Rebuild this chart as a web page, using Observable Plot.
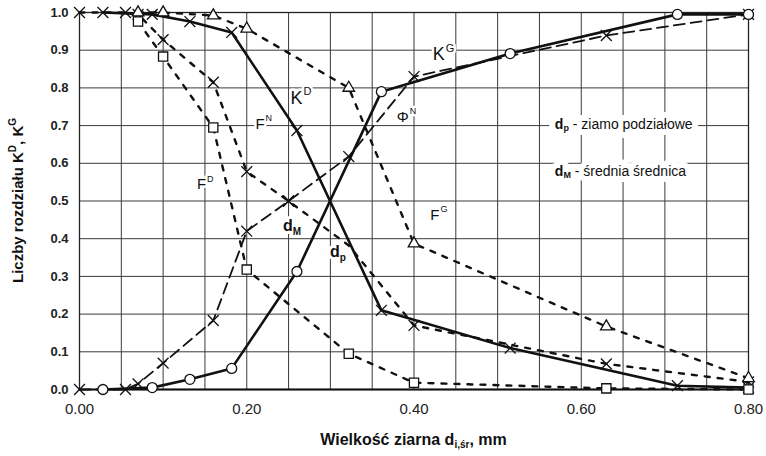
<!DOCTYPE html>
<html><head><meta charset="utf-8">
<script src="https://cdn.jsdelivr.net/npm/d3@7"></script>
<script src="https://cdn.jsdelivr.net/npm/@observablehq/plot@0.6"></script>
<style>body{margin:0;background:#fff;font-family:"Liberation Sans",Arial,sans-serif}</style>
</head><body><div id="chart"></div>
<script>
// partition numbers K^G (circles) and K^D (crosses)
const xK  = [0.028, 0.087, 0.132, 0.182, 0.26, 0.361, 0.515, 0.715, 0.80];
const kG  = [0.0, 0.005, 0.027, 0.056, 0.313, 0.79, 0.891, 0.995, 0.995];
const kD  = [1.0, 0.995, 0.976, 0.947, 0.687, 0.21, 0.11, 0.01, 0.005];
// feed distributions Phi^N and F^N (crosses)
const xN   = [0, 0.055, 0.07, 0.10, 0.16, 0.20, 0.25, 0.322, 0.40, 0.63, 0.80];
const phiN = [0, 0, 0.015, 0.07, 0.183, 0.42, 0.50, 0.618, 0.83, 0.939, 0.995];
const fN   = [1.0, 1.0, 0.995, 0.928, 0.815, 0.578, 0.50, 0.382, 0.17, 0.068, 0.02];
// product distributions F^D (squares) and F^G (triangles)
const xDG = [0.07, 0.10, 0.16, 0.20, 0.322, 0.40, 0.63, 0.80];
const fD  = [0.976, 0.883, 0.695, 0.318, 0.095, 0.018, 0.003, 0.0];
const fG  = [1.0, 1.0, 0.992, 0.957, 0.80, 0.387, 0.167, 0.03];
// ticks
const xTicks = [0, 0.2, 0.4, 0.6, 0.8];
const xGrid  = [0, 0.05, 0.1, 0.15, 0.2, 0.25, 0.3, 0.35, 0.4, 0.45, 0.5, 0.55, 0.6, 0.65, 0.7, 0.75, 0.8];
const yTicks = [0, 0.1, 0.2, 0.3, 0.4, 0.5, 0.6, 0.7, 0.8, 0.9, 1.0];
// curve labels
const curveLabels = [
  {x: 0.423, y: 0.885, base: "K", sup: "G", size: 18},
  {x: 0.253, y: 0.77,  base: "K", sup: "D", size: 18},
  {x: 0.211, y: 0.70,  base: "F", sup: "N", size: 15},
  {x: 0.380, y: 0.72,  base: "Φ", sup: "N", size: 15},
  {x: 0.141, y: 0.54,  base: "F", sup: "D", size: 15},
  {x: 0.420, y: 0.46,  base: "F", sup: "G", size: 15}
];
const pointLabels = [
  {x: 0.244, y: 0.43, base: "d", sub: "M"},
  {x: 0.300, y: 0.36, base: "d", sub: "p"}
];
const legendLines = [
  {x: 0.569, y: 0.70,  base: "d", sub: "p", rest: " - ziamo podziałowe"},
  {x: 0.569, y: 0.575, base: "d", sub: "M", rest: " - średnia średnica"}
];

const rowsK  = xK.map((x, i) => ({x, g: kG[i], d: kD[i]}));
const rowsN  = xN.map((x, i) => ({x, phi: phiN[i], f: fN[i]}));
const rowsDG = xDG.map((x, i) => ({x, d: fD[i], g: fG[i]}));

const chart = Plot.plot({
  width: 766, height: 456,
  marginLeft: 79, marginRight: 18, marginTop: 12, marginBottom: 67,
  style: {fontFamily: "Liberation Sans, Arial, sans-serif", background: "#fff"},
  x: {domain: [0, 0.8]},
  y: {domain: [0, 1]},
  marks: [
    Plot.gridX(xGrid, {stroke: "#3a3a3a", strokeOpacity: 1, strokeWidth: 1}),
    Plot.gridY(yTicks, {stroke: "#3a3a3a", strokeOpacity: 1, strokeWidth: 1}),
    Plot.frame({stroke: "#222", strokeWidth: 1.3}),
    Plot.ruleY([0], {stroke: "#111", strokeWidth: 2}),
    Plot.axisX(xTicks, {tickFormat: d3.format(".2f"), tickSize: 0, tickPadding: 14, fontSize: 15, label: null, fill: "#222"}),
    Plot.axisY(yTicks, {tickFormat: d3.format(".1f"), tickSize: 0, tickPadding: 11, fontSize: 13, fontWeight: "bold", label: null, fill: "#222"}),
    // dashed distributions
    Plot.line(rowsN,  {x: "x", y: "f", stroke: "#111", strokeWidth: 2.4, strokeDasharray: "5,8"}),
    Plot.line(rowsDG, {x: "x", y: "d", stroke: "#111", strokeWidth: 2.4, strokeDasharray: "5,8"}),
    Plot.line(rowsDG, {x: "x", y: "g", stroke: "#111", strokeWidth: 2.4, strokeDasharray: "5,8"}),
    Plot.line(rowsN,  {x: "x", y: "phi", stroke: "#111", strokeWidth: 1.8, strokeDasharray: "11,6"}),
    // partition curves
    Plot.line(rowsK, {x: "x", y: "g", stroke: "#111", strokeWidth: 2.6}),
    Plot.line(rowsK, {x: "x", y: "d", stroke: "#111", strokeWidth: 2.6}),
    // markers (the F^N point under the d_p label is hidden in the original)
    Plot.dot(rowsN,  {x: "x", y: "f", filter: d => d.x !== 0.322, symbol: "times", r: 5, stroke: "#111", strokeWidth: 1.3}),
    Plot.dot(rowsN,  {x: "x", y: "phi", symbol: "times", r: 5, stroke: "#111", strokeWidth: 1.3}),
    Plot.dot(rowsK,  {x: "x", y: "d",   symbol: "times", r: 5, stroke: "#111", strokeWidth: 1.3}),
    Plot.dot(rowsDG, {x: "x", y: "d", symbol: "square",   r: 5.2, fill: "#fff", stroke: "#111", strokeWidth: 1.3}),
    Plot.dot(rowsDG, {x: "x", y: "g", symbol: "triangle", r: 4.3, fill: "#fff", stroke: "#111", strokeWidth: 1.3}),
    Plot.dot(rowsK,  {x: "x", y: "g", symbol: "circle",   r: 5, fill: "#fff", stroke: "#111", strokeWidth: 1.3})
  ]
});

const sx = chart.scale("x"), sy = chart.scale("y");
const svg = d3.select(chart);
const g = svg.append("g").attr("font-family", "Liberation Sans, Arial, sans-serif");

// parts: [{t, size, weight, dy, dx}]
function richText(px, py, parts, haloW, anchor, transform) {
  const layers = haloW > 0 ? ["halo", "fg"] : ["fg"];
  layers.forEach(layer => {
    const t = g.append("text").attr("dominant-baseline", "middle").attr("text-anchor", anchor || "start");
    if (transform) t.attr("transform", transform); else t.attr("x", px).attr("y", py);
    if (layer === "halo") t.attr("fill", "#fff").attr("stroke", "#fff").attr("stroke-width", haloW).attr("stroke-linejoin", "round");
    else t.attr("fill", "#111");
    parts.forEach(p => {
      const s = t.append("tspan").attr("font-size", p.size).text(p.t);
      if (p.weight) s.attr("font-weight", p.weight);
      if (p.dy) s.attr("dy", p.dy);
      if (p.dx) s.attr("dx", p.dx);
    });
  });
}

curveLabels.forEach(l => {
  richText(sx.apply(l.x), sy.apply(l.y), [
    {t: l.base, size: l.size},
    {t: l.sup, size: Math.round(l.size * 0.62), dy: -l.size * 0.38, dx: 1}
  ], 5);
});
pointLabels.forEach(l => {
  richText(sx.apply(l.x), sy.apply(l.y), [
    {t: l.base, size: 16, weight: "bold"},
    {t: l.sub, size: 10, weight: "bold", dy: 5}
  ], 6);
});
legendLines.forEach(l => {
  richText(sx.apply(l.x), sy.apply(l.y), [
    {t: l.base, size: 14, weight: "bold"},
    {t: l.sub, size: 9, weight: "bold", dy: 4},
    {t: l.rest, size: 14, dy: -4}
  ], 12);
});

// axis titles
richText((sx.range[0] + sx.range[1]) / 2, 441, [
  {t: "Wielkość ziarna d", size: 16, weight: "bold"},
  {t: "i,śr", size: 10, weight: "bold", dy: 4},
  {t: ", mm", size: 16, weight: "bold", dy: -4}
], 0, "middle");

const cy = (sy.range[0] + sy.range[1]) / 2;
richText(0, 0, [
  {t: "Liczby rozdziału K", size: 15, weight: "bold"},
  {t: "D", size: 10, weight: "bold", dy: -6},
  {t: ", K", size: 15, weight: "bold", dy: 6},
  {t: "G", size: 10, weight: "bold", dy: -6}
], 0, "middle", `translate(19,${cy}) rotate(-90)`);

document.getElementById("chart").appendChild(chart);
</script>
</body></html>
